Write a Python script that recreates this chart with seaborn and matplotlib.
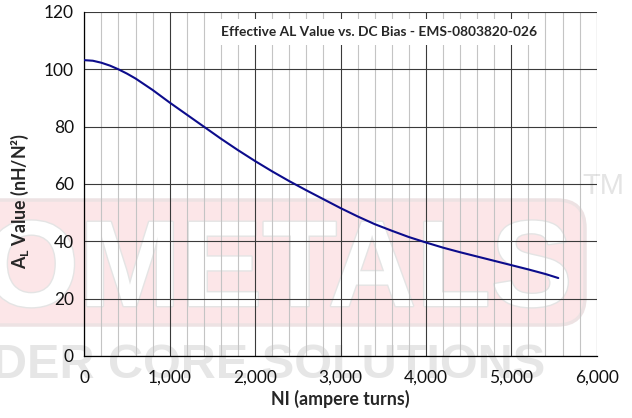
import pandas as pd
import matplotlib
matplotlib.use("Agg")
import matplotlib.pyplot as plt
import matplotlib.patheffects as pe
from matplotlib.patches import FancyBboxPatch
from matplotlib.transforms import IdentityTransform
from matplotlib.ticker import MultipleLocator, FuncFormatter
import seaborn as sns

# values
ni = [0, 100, 200, 300, 400, 500, 600, 800, 1000, 1200, 1400, 1600, 1800,
      2000, 2200, 2400, 2600, 2800, 3000, 3200, 3400, 3600, 3800, 4000, 4200,
      4400, 4600, 4800, 5000, 5200, 5400, 5550]
al = [103.2, 103.0, 102.3, 101.3, 100.0, 98.5, 96.8, 92.8, 88.4, 84.2, 80.0,
      75.8, 71.8, 68.0, 64.4, 61.0, 57.8, 54.7, 51.6, 48.7, 46.0, 43.7, 41.5,
      39.6, 37.8, 36.2, 34.7, 33.2, 31.7, 30.2, 28.6, 27.2]

title = "Effective AL Value vs. DC Bias - EMS-0803820-026"
x_label = "NI (ampere turns)"
y_label = r"A$_{\mathbf{L}}$ Value (nH/N²)"

df = pd.DataFrame({"NI": ni, "AL": al})

sns.set_style("white")
plt.rcParams["font.family"] = ["Lato", "DejaVu Sans"]
plt.rcParams["mathtext.fontset"] = "custom"
plt.rcParams["mathtext.bf"] = "Lato:bold"
plt.rcParams["mathtext.rm"] = "Lato"

fig = plt.figure(figsize=(6.32, 4.18), dpi=100)
ax = fig.add_axes([84.3 / 632, 1 - 356 / 418, 512.4 / 632, 344 / 418])
ax.set_facecolor("none")

# faint company watermark behind the chart
box = FancyBboxPatch((-40, 418 - 325), 625, 125,
                     boxstyle="round,pad=0,rounding_size=28",
                     transform=IdentityTransform(), facecolor="#fce6e8",
                     edgecolor="#ede2e3", linewidth=2.5, zorder=-5)
fig.add_artist(box)
fig.text(572 / 632, 1 - 306 / 418, "MICROMETALS", fontsize=88,
         family=["Liberation Sans"], weight="bold", color="white",
         ha="right", va="baseline", zorder=-4,
         path_effects=[pe.withStroke(linewidth=2, foreground="#e4e4e4")])
fig.text(545 / 632, 1 - 378 / 418, "POWDER CORE SOLUTIONS", fontsize=35,
         family=["Liberation Sans"], weight="bold",
         color="#e6e6e6", ha="right", va="baseline", zorder=-4)
fig.text(624 / 632, 1 - 194 / 418, "TM", fontsize=21,
         family=["Liberation Sans"], color="#e4e4e4",
         ha="right", va="baseline", zorder=-4)

sns.lineplot(data=df, x="NI", y="AL", ax=ax, color="#0c0c8c",
             linewidth=1.5, zorder=3)

ax.set_xlim(0, 6000)
ax.set_ylim(0, 120)
ax.xaxis.set_major_locator(MultipleLocator(1000))
ax.xaxis.set_minor_locator(MultipleLocator(200))
ax.yaxis.set_major_locator(MultipleLocator(20))
ax.xaxis.set_major_formatter(FuncFormatter(lambda v, p: f"{int(v):,}"))

ax.grid(which="minor", axis="x", color="#c4c4c4", linewidth=0.8)
ax.grid(which="major", axis="both", color="#3a3a3a", linewidth=0.8)
ax.set_axisbelow(True)

for side in ["top", "right"]:
    ax.spines[side].set_visible(False)
for side in ["left", "bottom"]:
    ax.spines[side].set_color("black")
    ax.spines[side].set_linewidth(0.9)

ax.tick_params(axis="both", which="major", direction="out", length=4,
               width=0.8, color="#333333", labelsize=12.5, labelcolor="#111111")
ax.tick_params(axis="x", which="major", pad=6)
ax.tick_params(which="minor", length=0)

ax.set_xlabel(x_label, fontsize=12.8, weight="bold", labelpad=3)
ax.set_ylabel(y_label, fontsize=12.8, weight="bold")
ax.yaxis.set_label_coords(-0.104, 0.45)

ax.text(0.575, 0.942, title, transform=ax.transAxes, fontsize=9.9,
        weight="bold", ha="center", va="center", zorder=4,
        bbox=dict(facecolor="white", edgecolor="none", pad=5))

plt.savefig("out.png", dpi=100)
